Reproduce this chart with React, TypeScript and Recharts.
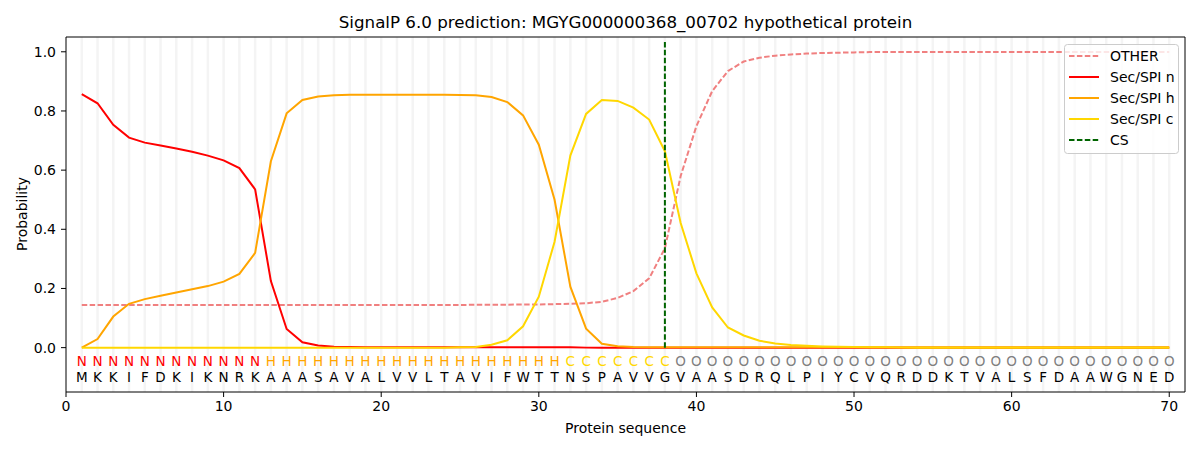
import React from "react";
import {
  ComposedChart,
  Line,
  Scatter,
  XAxis,
  YAxis,
  ReferenceLine,
} from "recharts";

const sequence = "MKKIFDKIKNRKAAASAVALVVLTAVIFWTTNSPAVVGVAASDRQLPIYCVQRDDKTVALSFDAAWGNED";
const regionLabels = "NNNNNNNNNNNNHHHHHHHHHHHHHHHHHHHCCCCCCCOOOOOOOOOOOOOOOOOOOOOOOOOOOOOOOO";

const other = [
  0.144, 0.144, 0.144, 0.144, 0.144, 0.144, 0.144, 0.144, 0.144, 0.144,
  0.144, 0.144, 0.144, 0.144, 0.144, 0.144, 0.144, 0.144, 0.144, 0.144,
  0.144, 0.144, 0.144, 0.144, 0.144, 0.145, 0.145, 0.145, 0.146, 0.146,
  0.147, 0.148, 0.150, 0.155, 0.168, 0.191, 0.234, 0.336, 0.580, 0.749,
  0.867, 0.935, 0.967, 0.980, 0.987, 0.991, 0.994, 0.996, 0.997, 0.998,
  0.999, 0.999, 0.999, 0.999, 0.999, 0.999, 0.999, 0.999, 0.999, 0.999,
  0.999, 0.999, 0.999, 0.999, 0.999, 0.999, 0.999, 0.999, 0.999, 0.999,
];

const secN = [
  0.857, 0.826, 0.753, 0.710, 0.693, 0.683, 0.673, 0.662, 0.649, 0.633,
  0.607, 0.535, 0.225, 0.063, 0.018, 0.007, 0.003, 0.002, 0.001, 0.001,
  0.001, 0.001, 0.001, 0.001, 0.001, 0.001, 0.001, 0.001, 0.001, 0.001,
  0.001, 0.001, 0.000, 0.000, 0.000, 0.000, 0.000, 0.000, 0.000, 0.000,
  0.000, 0.000, 0.000, 0.000, 0.000, 0.000, 0.000, 0.000, 0.000, 0.000,
  0.000, 0.000, 0.000, 0.000, 0.000, 0.000, 0.000, 0.000, 0.000, 0.000,
  0.000, 0.000, 0.000, 0.000, 0.000, 0.000, 0.000, 0.000, 0.000, 0.000,
];

const secH = [
  0.000, 0.029, 0.105, 0.148, 0.164, 0.175, 0.186, 0.197, 0.208, 0.223,
  0.249, 0.320, 0.630, 0.792, 0.837, 0.849, 0.853, 0.855, 0.855, 0.855,
  0.855, 0.855, 0.855, 0.855, 0.854, 0.853, 0.847, 0.830, 0.785, 0.686,
  0.500, 0.206, 0.064, 0.013, 0.005, 0.002, 0.001, 0.001, 0.001, 0.001,
  0.001, 0.001, 0.001, 0.001, 0.001, 0.001, 0.001, 0.001, 0.001, 0.001,
  0.001, 0.001, 0.001, 0.001, 0.001, 0.001, 0.001, 0.001, 0.001, 0.001,
  0.001, 0.001, 0.001, 0.001, 0.001, 0.001, 0.001, 0.001, 0.001, 0.001,
];

const secC = [
  0.000, 0.000, 0.000, 0.000, 0.000, 0.000, 0.000, 0.000, 0.000, 0.000,
  0.000, 0.000, 0.000, 0.000, 0.000, 0.000, 0.000, 0.000, 0.000, 0.000,
  0.000, 0.000, 0.000, 0.000, 0.001, 0.002, 0.010, 0.025, 0.072, 0.172,
  0.358, 0.649, 0.790, 0.837, 0.834, 0.811, 0.771, 0.664, 0.421, 0.251,
  0.136, 0.068, 0.041, 0.023, 0.014, 0.009, 0.006, 0.004, 0.003, 0.002,
  0.001, 0.001, 0.000, 0.000, 0.000, 0.000, 0.000, 0.000, 0.000, 0.000,
  0.000, 0.000, 0.000, 0.000, 0.000, 0.000, 0.000, 0.000, 0.000, 0.000,
];

const csPosition = 38;
const xTicks = [0, 10, 20, 30, 40, 50, 60, 70];
const yTicks = [0, 0.2, 0.4, 0.6, 0.8, 1.0];

const title = "SignalP 6.0 prediction: MGYG000000368_00702 hypothetical protein";

const seriesInfo = [
  { key: "other", name: "OTHER", color: "#F08080", dash: "5.5 2.4" },
  { key: "n", name: "Sec/SPI n", color: "#FF0000", dash: undefined },
  { key: "h", name: "Sec/SPI h", color: "#FFA500", dash: undefined },
  { key: "c", name: "Sec/SPI c", color: "#FFD700", dash: undefined },
];
const csInfo = { name: "CS", color: "#006400", dash: "5.5 2.4" };

const labelColors: Record<string, string> = {
  N: "#FF0000",
  H: "#FFA500",
  C: "#FFD700",
  O: "#808080",
};

const positions = sequence.split("").map((_, i) => i + 1);

const table = positions.map((p, i) => ({
  pos: p,
  other: other[i],
  n: secN[i],
  h: secH[i],
  c: secC[i],
}));

const LABEL_Y = -0.045;
const letterTable = positions.map((p, i) => ({
  pos: p,
  ly: LABEL_Y,
  label: regionLabels[i],
  aa: sequence[i],
}));

const FONT = "DejaVu Sans, sans-serif";

const LetterShape = (props: any) => {
  const { cx, cy, payload } = props;
  if (cx == null || cy == null) return null;
  return (
    <g>
      <text
        x={cx}
        y={cy}
        textAnchor="middle"
        dominantBaseline="central"
        fill={labelColors[payload.label]}
        fontSize={13.5}
        fontFamily={FONT}
      >
        {payload.label}
      </text>
      <text
        x={cx}
        y={cy + 16}
        textAnchor="middle"
        dominantBaseline="central"
        fill="#000"
        fontSize={13.5}
        fontFamily={FONT}
      >
        {payload.aa}
      </text>
    </g>
  );
};

const LegendBox = () => {
  const entries = [...seriesInfo.map((s) => ({ name: s.name, color: s.color, dash: s.dash })), csInfo];
  return (
    <svg
      width={115}
      height={110}
      style={{ position: "absolute", left: 1064, top: 44, overflow: "visible" }}
    >
      <rect
        x={0.5}
        y={0.5}
        width={114}
        height={109}
        rx={3}
        ry={3}
        fill="rgba(255,255,255,0.8)"
        stroke="#cccccc"
        strokeWidth={1}
      />
      {entries.map((e, i) => {
        const y = 12 + i * 21;
        return (
          <g key={e.name}>
            <line
              x1={5}
              x2={35}
              y1={y}
              y2={y}
              stroke={e.color}
              strokeWidth={2}
              strokeDasharray={e.dash}
            />
            <text
              x={46}
              y={y}
              dominantBaseline="central"
              fontSize={14}
              fontFamily={FONT}
              fill="#000"
            >
              {e.name}
            </text>
          </g>
        );
      })}
    </svg>
  );
};

export default function App() {
  return (
    <div
      style={{
        position: "absolute",
        left: 0,
        top: 0,
        width: 1200,
        height: 450,
        background: "#fff",
        fontFamily: FONT,
      }}
    >
      <ComposedChart
        width={1200}
        height={450}
        data={table}
        margin={{ top: 37, right: 15, bottom: 13, left: 6 }}
      >
        {positions.map((p) => (
          <ReferenceLine
            key={"g" + p}
            x={p}
            stroke="#f4f4f4"
            strokeWidth={2.5}
          />
        ))}
        <XAxis
          dataKey="pos"
          type="number"
          domain={[0, 71]}
          ticks={xTicks}
          interval={0}
          height={45}
          tickSize={5}
          tickMargin={4}
          axisLine={{ stroke: "#000" }}
          tickLine={{ stroke: "#000" }}
          tick={{ fill: "#000", fontSize: 14, fontFamily: FONT }}
          allowDataOverflow
        />
        <YAxis
          type="number"
          domain={[-0.15, 1.05]}
          ticks={yTicks}
          interval={0}
          width={60}
          tickSize={5}
          tickMargin={5}
          tickFormatter={(v: number) => v.toFixed(1)}
          axisLine={{ stroke: "#000" }}
          tickLine={{ stroke: "#000" }}
          tick={{ fill: "#000", fontSize: 14, fontFamily: FONT }}
          allowDataOverflow
        />
        <ReferenceLine y={1.05} stroke="#000" />
        <ReferenceLine x={71} stroke="#000" />
        {seriesInfo.map((s) => (
          <Line
            key={s.key}
            dataKey={s.key}
            name={s.name}
            type="linear"
            stroke={s.color}
            strokeWidth={2}
            strokeDasharray={s.dash}
            dot={false}
            activeDot={false}
            isAnimationActive={false}
          />
        ))}
        <ReferenceLine
          segment={[
            { x: csPosition, y: 0 },
            { x: csPosition, y: 1.04 },
          ]}
          stroke={csInfo.color}
          strokeWidth={2}
          strokeDasharray={csInfo.dash}
        />
        <Scatter
          data={letterTable}
          dataKey="ly"
          shape={LetterShape}
          isAnimationActive={false}
        />
      </ComposedChart>
      <div
        style={{
          position: "absolute",
          left: 66,
          width: 1119,
          top: 12,
          textAlign: "center",
          fontSize: 16.7,
          lineHeight: "20px",
          color: "#000",
        }}
      >
        {title}
      </div>
      <div
        style={{
          position: "absolute",
          left: 66,
          width: 1119,
          top: 419,
          textAlign: "center",
          fontSize: 14,
          lineHeight: "18px",
          color: "#000",
        }}
      >
        Protein sequence
      </div>
      <div
        style={{
          position: "absolute",
          left: 22,
          top: 214,
          width: 0,
          height: 0,
        }}
      >
        <div
          style={{
            position: "absolute",
            left: -60,
            top: -9,
            width: 120,
            textAlign: "center",
            fontSize: 14,
            lineHeight: "18px",
            transform: "rotate(-90deg)",
            color: "#000",
          }}
        >
          Probability
        </div>
      </div>
      <LegendBox />
    </div>
  );
}
